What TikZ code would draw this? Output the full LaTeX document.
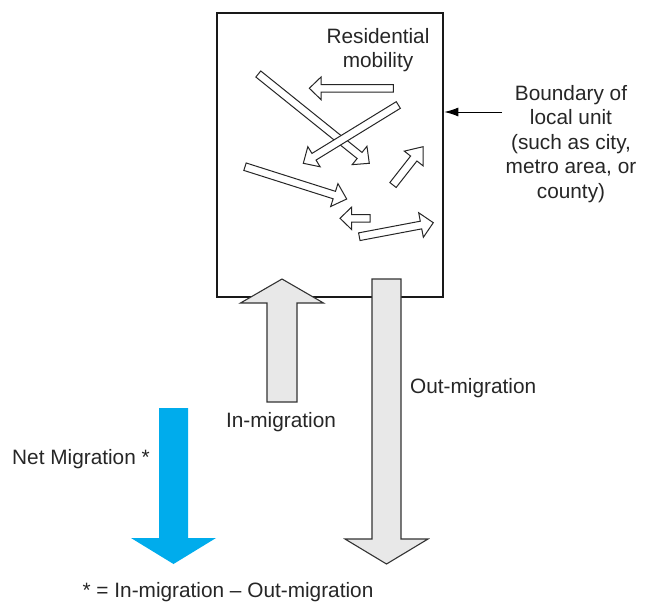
\documentclass[tikz,border=0pt]{standalone}
\usepackage{fontspec}
\setmainfont{Liberation Sans}
\usetikzlibrary{calc,arrows.meta}
\definecolor{arrgray}{RGB}{232,232,232}
\definecolor{netblue}{RGB}{0,172,236}
\newcommand\blockarr[6]{%
 \draw[#1] let \p1=($(#3)-(#2)$), \n1={atan2(\y1,\x1)}, \n2={veclen(\x1,\y1)-#6} in
  ($(#2)+(\n1+90:#4)$) -- ($(#2)+(\n1:\n2)+(\n1+90:#4)$) -- ($(#2)+(\n1:\n2)+(\n1+90:#5)$)
  -- (#3) -- ($(#2)+(\n1:\n2)+(\n1-90:#5)$) -- ($(#2)+(\n1:\n2)+(\n1-90:#4)$)
  -- ($(#2)+(\n1-90:#4)$) -- cycle;}
\tikzset{
  lbl/.style={font=\fontsize{20.8}{24.5}\selectfont, inner sep=0pt, text=black!85},
  smallarr/.style={draw=black!85, fill=white, line width=1pt, line join=miter},
  bigarr/.style={draw=black!80, fill=arrgray, line width=1.1pt, line join=miter},
  netarr/.style={fill=netblue, draw=none},
  unitbox/.style={draw=black!90, line width=2.6pt, minimum width=226pt, minimum height=284pt, inner sep=0pt}
}
\begin{document}
\begin{tikzpicture}[x=1pt,y=1pt]
\useasboundingbox (0,0) rectangle (650,-611);
% boundary box
\node[unitbox] (box) at (330,-155) {};
% residential mobility arrows
\blockarr{smallarr}{393.3,-88.3}{309.3,-88.3}{3.8}{11.3}{11.7}
\blockarr{smallarr}{258.3,-74}{369.3,-163.3}{3.9}{11.8}{12.5}
\blockarr{smallarr}{398.3,-105}{303.3,-163.3}{3.9}{11.8}{12.5}
\blockarr{smallarr}{245,-166.7}{346.7,-199}{3.9}{12}{13}
\blockarr{smallarr}{393,-185}{423,-146.7}{4}{12}{15}
\blockarr{smallarr}{370,-218.3}{340,-218.3}{3.8}{11.3}{11.7}
\blockarr{smallarr}{359.3,-236.7}{433.3,-222.7}{3.9}{12.5}{12.5}
% migration arrows
\blockarr{bigarr}{282,-402}{282,-279}{15}{41.5}{24}
\blockarr{bigarr}{386.5,-279}{386.5,-564}{14.5}{41.5}{25}
\blockarr{netarr}{173.5,-408}{173.5,-564}{14.5}{42.5}{26}
% labels
\node[lbl, align=center] (res) at (378,-50) {Residential\\mobility};
\node[lbl, align=center] (bnd) at (571,-144) {Boundary of\\local unit\\(such as city,\\metro area, or\\county)};
\coordinate (bstart) at (502,-112);
\draw[line width=1pt, -{Latex[length=14pt,width=9pt]}] (bstart) -- (box.east |- bstart);
\node[lbl, anchor=west] (out) at (410,-388) {Out-migration};
\node[lbl] (in) at (281,-422) {In-migration};
\node[lbl] (net) at (81,-459) {Net Migration *};
\node[lbl] (def) at (228,-592) {* = In-migration – Out-migration};
\end{tikzpicture}
\end{document}
